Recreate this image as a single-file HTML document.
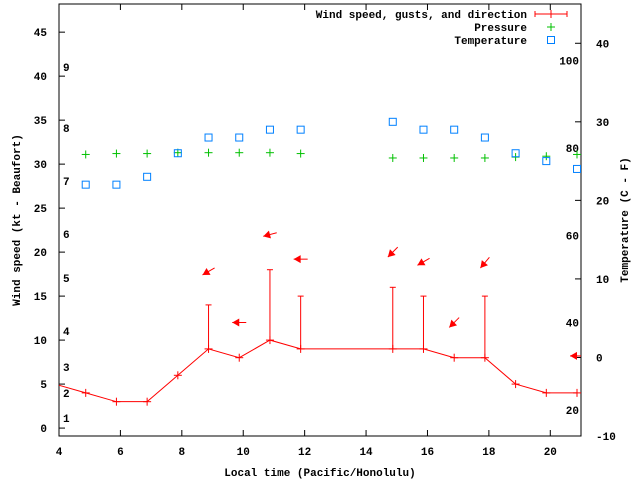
<!DOCTYPE html>
<html><head><meta charset="utf-8"><style>
body{margin:0;background:#fff}
svg text{font-family:"Liberation Mono",monospace;font-size:11px;font-weight:bold;fill:#000}
</style></head><body>
<svg id="c" width="640" height="480" xmlns="http://www.w3.org/2000/svg"></svg>
<script>
const times=[4.87,5.87,6.87,7.87,8.87,9.87,10.87,11.87,14.87,15.87,16.87,17.87,18.87,19.87,20.87];
const windSpeed=[4,3,3,6,9,8,10,9,9,9,8,8,5,4,4];
const windGust=[null,null,null,null,14,null,18,15,16,15,null,15,null,null,null];
const arrowTimes=[8.87,9.87,10.87,11.87,14.87,15.87,16.87,17.87,20.87];
const arrowY=[17.8,12,22,19.2,20,18.9,12,18.8,8.2];
const arrowDir=[60,90,75,90,45,60,45,40,90];
const pressure=[31.1,31.2,31.2,31.3,31.3,31.3,31.3,31.2,30.7,30.7,30.7,30.7,30.8,30.9,31.1];
const tempC=[22,22,23,26,28,28,29,29,30,29,29,28,26,25,24];
const xTicks=[4,6,8,10,12,14,16,18,20];
const yTicks=[0,5,10,15,20,25,30,35,40,45];
const y2Ticks=[-10,0,10,20,30,40];
const fTicks=[20,40,60,80,100];
const bft=[[1,418],[2,393],[3,367],[4,331],[5,278],[6,234],[7,181],[8,128],[9,67]];

const L=59,R=581,T=4,B=436;
const X=t=>L+(t-4)*(R-L)/17;
const Y=v=>B-(v+0.9)*(B-T)/49.1;
const Y2=c=>B-(c+10)*(B-T)/55;
const svg=document.getElementById('c');
const NS='http://www.w3.org/2000/svg';
function mk(tag,attrs,parent){const e=document.createElementNS(NS,tag);for(const k in attrs)e.setAttribute(k,attrs[k]);(parent||svg).appendChild(e);return e;}
function txt(s,x,y,anchor,parent){const e=mk('text',{x:x,y:y,'text-anchor':anchor||'start'},parent);e.textContent=s;return e;}

const axes=mk('g',{});


mk('rect',{x:L,y:T,width:R-L,height:B-T,fill:'none',stroke:'#000','stroke-width':1},axes);
xTicks.forEach(t=>{const x=X(t);mk('line',{x1:x,y1:B,x2:x,y2:B-6,stroke:'#000'},axes);mk('line',{x1:x,y1:T,x2:x,y2:T+6,stroke:'#000'},axes);
 const l=txt(String(t),x,455,'middle',axes);});
yTicks.forEach(v=>{const y=Y(v);mk('line',{x1:L,y1:y,x2:L+6,y2:y,stroke:'#000'},axes);
 const l=txt(String(v),47,y+4,'end',axes);});
y2Ticks.forEach(v=>{const y=Y2(v);mk('line',{x1:R,y1:y,x2:R-6,y2:y,stroke:'#000'},axes);
 const l=txt(String(v),596,y+4,'start',axes);});
fTicks.forEach(f=>{const y=Y2((f-32)*5/9);const l=txt(String(f),579,y+4,'end',axes);});
bft.forEach(b=>{const l=txt(String(b[0]),63,b[1]+4,'start',axes);});
const xt=txt('Local time (Pacific/Honolulu)',320,476,'middle');

const yt=txt('Wind speed (kt - Beaufort)',0,0,'middle');yt.setAttribute('transform','translate(20,220) rotate(-90)');

const y2t=txt('Temperature (C - F)',0,0,'middle');y2t.setAttribute('transform','translate(628,220) rotate(-90)');


// clip
const cp=mk('clipPath',{id:'pc'});mk('rect',{x:L,y:T,width:R-L,height:B-T},cp);
const plot=mk('g',{'clip-path':'url(#pc)'});

// wind line
let pts=[[X(3.87),Y(5)]].concat(times.map((t,i)=>[X(t),Y(windSpeed[i])]));
const wl=mk('polyline',{points:pts.map(p=>p.join(',')).join(' '),fill:'none',stroke:'#f00','stroke-width':1},plot);

times.forEach((t,i)=>{const x=X(t),y=Y(windSpeed[i]);
 const g=mk('g',{stroke:'#f00'},plot);
 
 mk('line',{x1:x-4,y1:y,x2:x+4,y2:y},g);mk('line',{x1:x,y1:y-4,x2:x,y2:y+4},g);
 if(windGust[i]!=null){const gy=Y(windGust[i]);mk('line',{x1:x,y1:y,x2:x,y2:gy},g);mk('line',{x1:x-3,y1:gy,x2:x+3,y2:gy},g);}
});
// arrows
arrowTimes.forEach((t,i)=>{const cx=X(t),cy=Y(arrowY[i]);const a=arrowDir[i]*Math.PI/180;
 const dx=Math.sin(a),dy=-Math.cos(a);const len=14;
 const tx=cx+dx*len/2,ty=cy+dy*len/2,hx=cx-dx*len/2,hy=cy-dy*len/2;
 const g=mk('g',{},plot);
 
 mk('line',{x1:tx,y1:ty,x2:hx,y2:hy,stroke:'#f00'},g);
 const px=-dy,py=dx;
 mk('polygon',{points:`${hx},${hy} ${hx+dx*7+px*4},${hy+dy*7+py*4} ${hx+dx*7-px*4},${hy+dy*7-py*4}`,fill:'#f00'},g);
});
// pressure
times.forEach((t,i)=>{const x=X(t),y=Y(pressure[i]);const g=mk('g',{stroke:'#00c000'},plot);
 
 mk('line',{x1:x-4,y1:y,x2:x+4,y2:y},g);mk('line',{x1:x,y1:y-4,x2:x,y2:y+4},g);});
// temperature
times.forEach((t,i)=>{const x=X(t),y=Y2(tempC[i]);const r=mk('rect',{x:x-3.5,y:y-3.5,width:7,height:7,fill:'none',stroke:'#0080ff'},plot);
 });

// legend
const lg=mk('g',{});
const e1=mk('g',{},lg);
txt('Wind speed, gusts, and direction',527,18,'end',e1);
mk('line',{x1:535,y1:14,x2:567,y2:14,stroke:'#f00'},e1);mk('line',{x1:535,y1:11,x2:535,y2:17,stroke:'#f00'},e1);mk('line',{x1:567,y1:11,x2:567,y2:17,stroke:'#f00'},e1);mk('line',{x1:551,y1:10,x2:551,y2:18,stroke:'#f00'},e1);
const e2=mk('g',{},lg);
txt('Pressure',527,31,'end',e2);
mk('line',{x1:547,y1:27,x2:555,y2:27,stroke:'#00c000'},e2);mk('line',{x1:551,y1:23,x2:551,y2:31,stroke:'#00c000'},e2);
const e3=mk('g',{},lg);
txt('Temperature',527,44,'end',e3);
mk('rect',{x:547.5,y:36.5,width:7,height:7,fill:'none',stroke:'#0080ff'},e3);
</script>
</body></html>
